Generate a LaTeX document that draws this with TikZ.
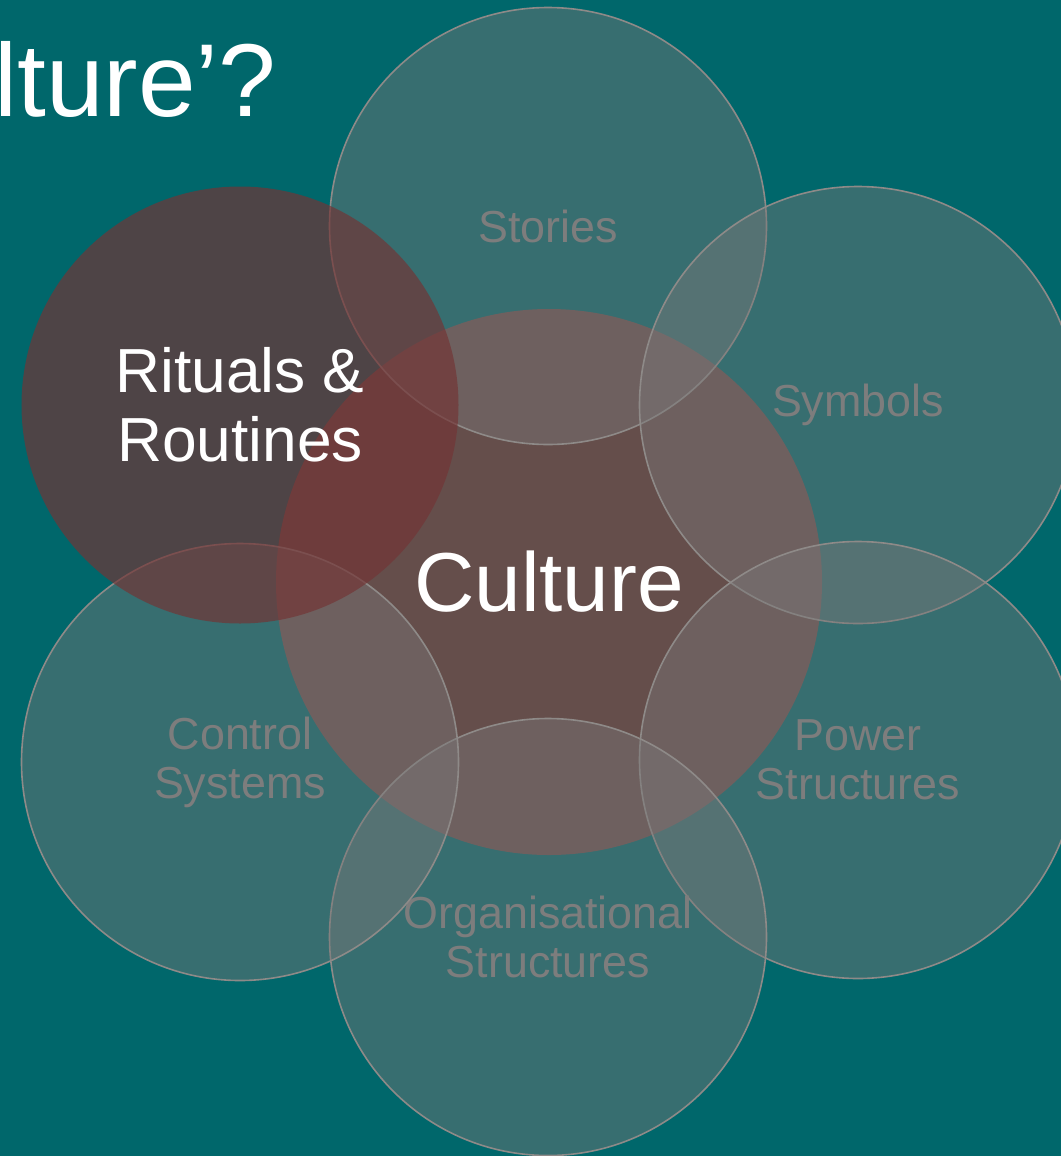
\documentclass[tikz,border=0pt]{standalone}
\usepackage{fontspec}
\setmainfont{Liberation Sans}
\definecolor{bgteal}{RGB}{0,103,107}
\definecolor{culturebrown}{RGB}{101,78,75}
\definecolor{ringfill}{RGB}{122,120,120}
\definecolor{ringline}{RGB}{142,138,136}
\definecolor{ritualred}{RGB}{115,52,53}
\definecolor{labelgray}{RGB}{125,125,125}

\begin{document}
\begin{tikzpicture}[x=1bp,y=-1bp,
  ring/.style={circle,minimum size=437bp,inner sep=0pt,align=center,
    fill=ringfill,fill opacity=0.45,draw=ringline,draw opacity=1,line width=1.6bp,
    text=labelgray,text opacity=1,font=\fontsize{45}{49}\selectfont},
  core/.style={circle,minimum size=546bp,inner sep=0pt,fill=culturebrown,
    text=white,font=\fontsize{84}{90}\selectfont},
  focus/.style={circle,minimum size=437bp,inner sep=0pt,align=center,
    fill=ritualred,fill opacity=0.68,text=white,text opacity=1,
    font=\fontsize{62.5}{69}\selectfont}]
\useasboundingbox (0,0) rectangle (1061,1156);
\fill[bgteal] (0,0) rectangle (1061,1156);
% title, cut at the left edge
\node[anchor=base west,inner sep=0pt,text=white,font=\fontsize{104}{110}\selectfont] (title) at (-6,116) {lture’?};
% centre circle
\node[core] (culture) at (549,582) {Culture};
% surrounding circles
\node[ring] (stories) at (548,226) {Stories};
\node[ring] (symbols) at (858,405) {Symbols};
\node[ring] (power) at (858,760) {Power\\Structures};
\node[ring] (organisational) at (548,937) {Organisational\\Structures};
\node[ring] (control) at (240,762) {Control\\Systems};
% highlighted circle
\node[focus] (rituals) at (240,405) {Rituals \&\\Routines};
\end{tikzpicture}
\end{document}
